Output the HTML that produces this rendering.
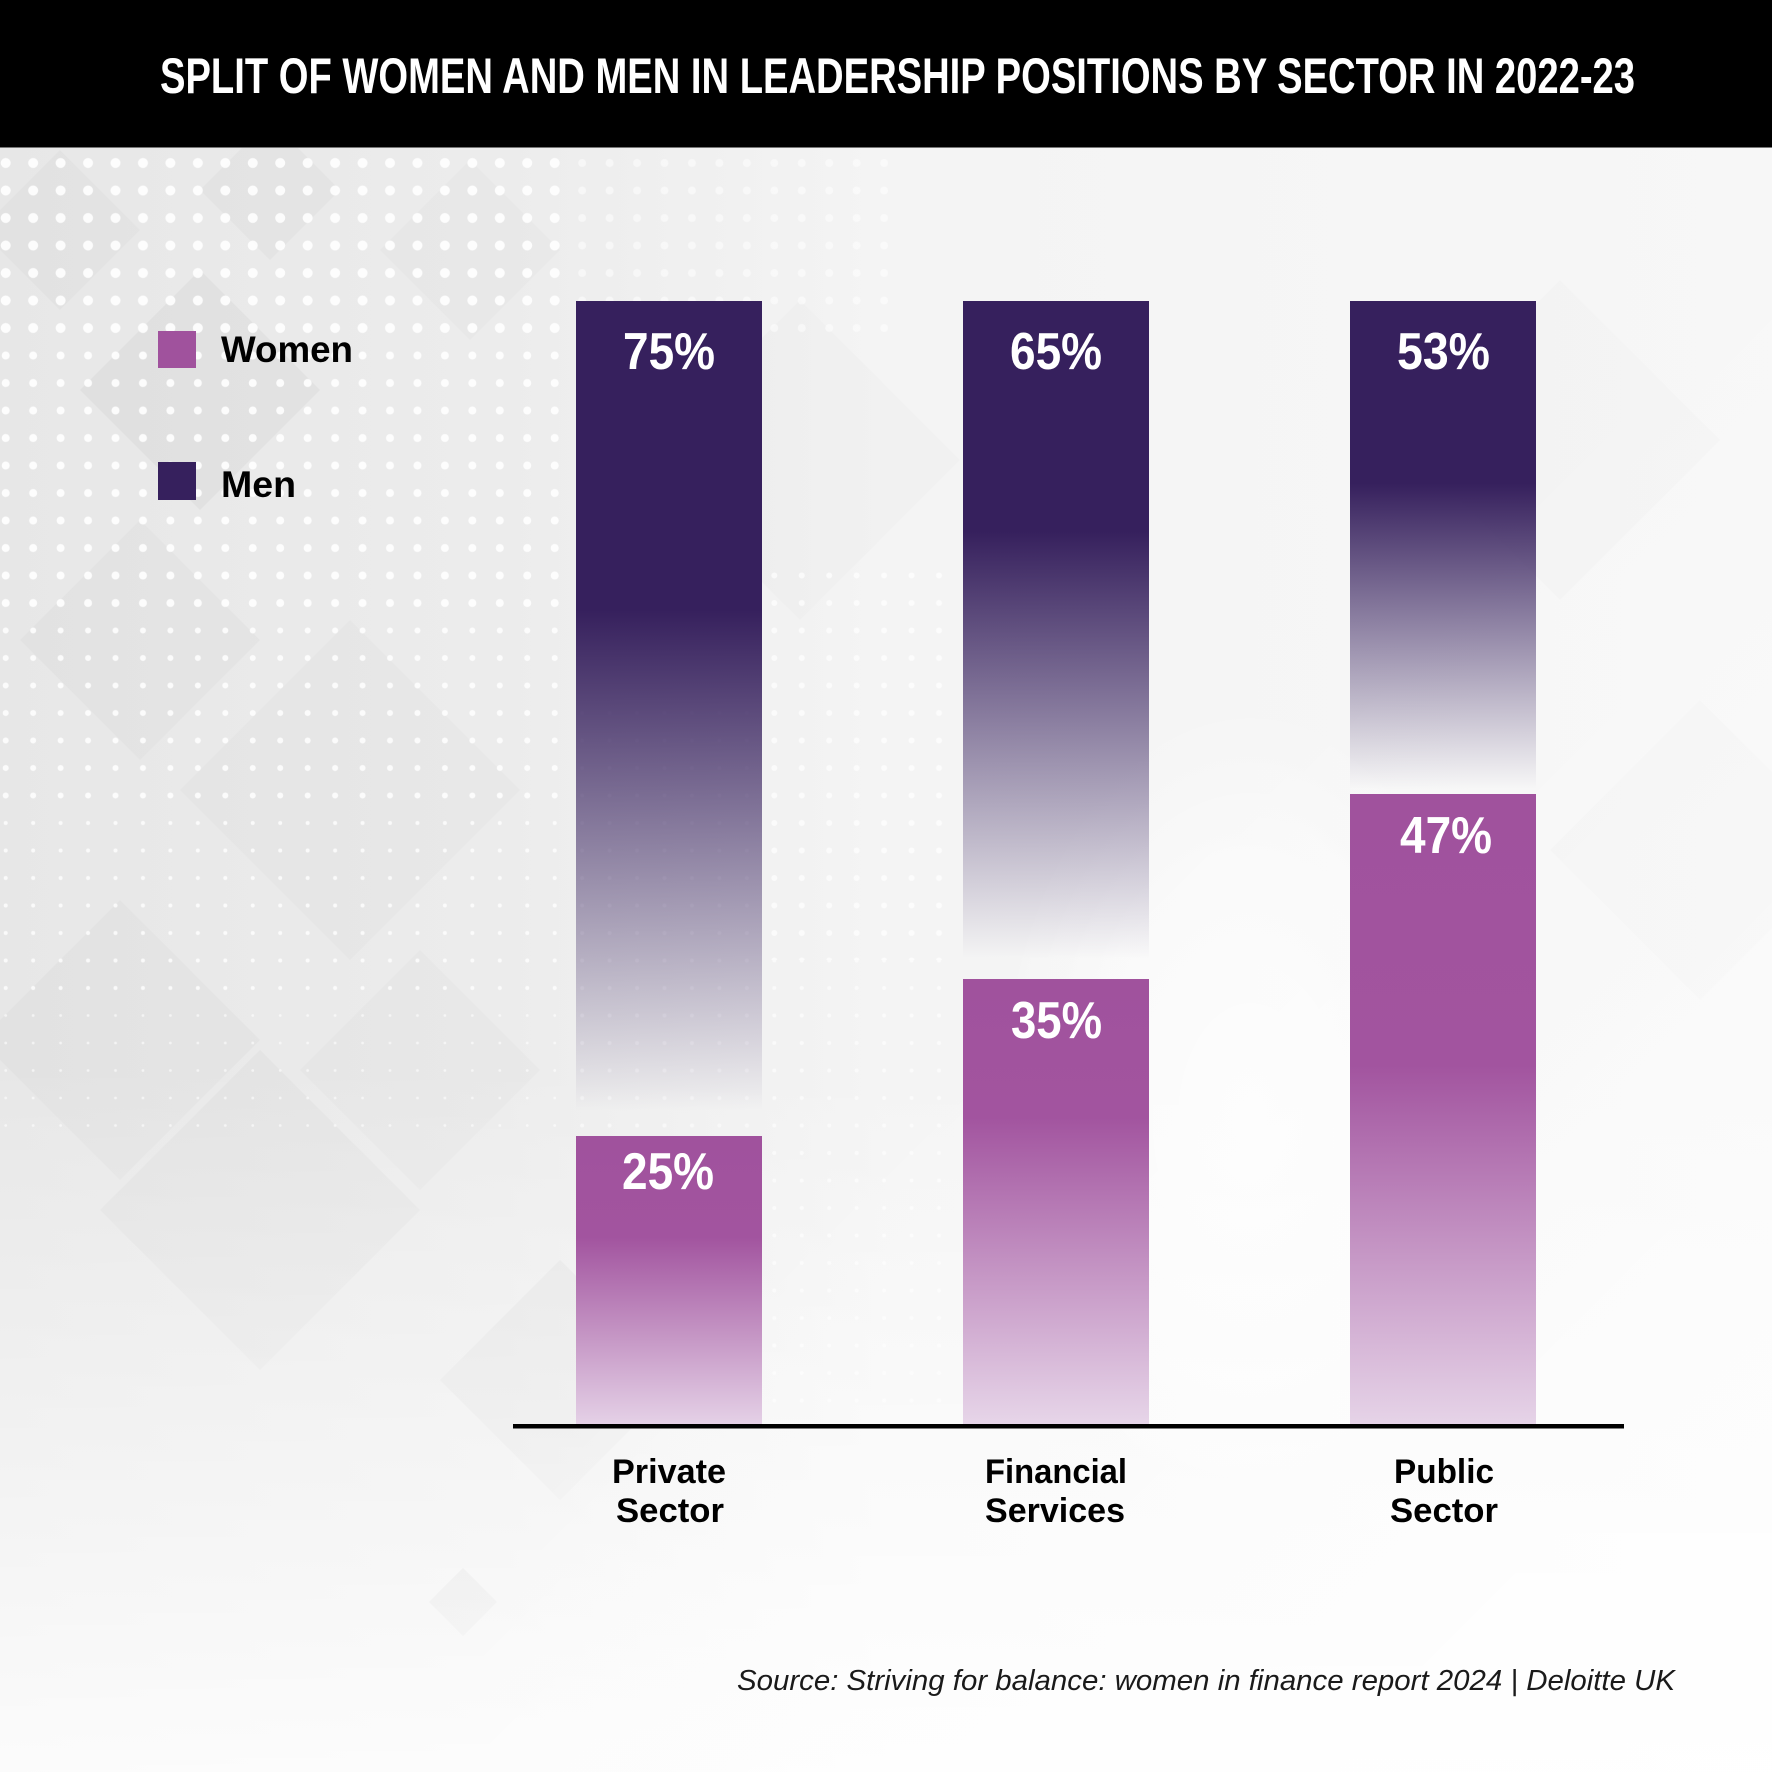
<!DOCTYPE html>
<html>
<head>
<meta charset="utf-8">
<style>
  html,body{margin:0;padding:0;background:#fff;}
  svg{display:block;}
  .t{font-family:"Liberation Sans Narrow","Liberation Sans",sans-serif;font-weight:bold;}
  .b{font-family:"Liberation Sans",sans-serif;font-weight:bold;}
  .s{font-family:"Liberation Sans",sans-serif;font-style:italic;}
</style>
</head>
<body>
<svg width="1772" height="1772" viewBox="0 0 1772 1772" xmlns="http://www.w3.org/2000/svg">
  <defs>
    <linearGradient id="bgH" x1="0" y1="0" x2="1" y2="0">
      <stop offset="0" stop-color="#e7e7e7"/>
      <stop offset="0.28" stop-color="#ececec"/>
      <stop offset="0.5" stop-color="#f4f4f4"/>
      <stop offset="1" stop-color="#f7f7f7"/>
    </linearGradient>
    <linearGradient id="bgV" x1="0" y1="0" x2="0" y2="1">
      <stop offset="0" stop-color="#ffffff" stop-opacity="0"/>
      <stop offset="0.6" stop-color="#ffffff" stop-opacity="0"/>
      <stop offset="1" stop-color="#ffffff" stop-opacity="0.85"/>
    </linearGradient>
    <linearGradient id="bgR" x1="0" y1="0" x2="1" y2="1">
      <stop offset="0" stop-color="#ffffff" stop-opacity="0"/>
      <stop offset="0.55" stop-color="#ffffff" stop-opacity="0"/>
      <stop offset="1" stop-color="#ffffff" stop-opacity="0.7"/>
    </linearGradient>
    <radialGradient id="glow" cx="0.5" cy="0.5" r="0.5">
      <stop offset="0" stop-color="#ffffff" stop-opacity="0.75"/>
      <stop offset="0.6" stop-color="#ffffff" stop-opacity="0.45"/>
      <stop offset="1" stop-color="#ffffff" stop-opacity="0"/>
    </radialGradient>

    <pattern id="d5" patternUnits="userSpaceOnUse" x="-8" y="149.25" width="27.45" height="27.5">
      <circle cx="13.7" cy="13.75" r="5" fill="#fff"/>
    </pattern>
    <pattern id="d4" patternUnits="userSpaceOnUse" x="-8" y="149.25" width="27.45" height="27.5">
      <circle cx="13.7" cy="13.75" r="4" fill="#fff"/>
    </pattern>
    <pattern id="d3" patternUnits="userSpaceOnUse" x="-8" y="149.25" width="27.45" height="27.5">
      <circle cx="13.7" cy="13.75" r="3" fill="#fff"/>
    </pattern>
    <pattern id="d2" patternUnits="userSpaceOnUse" x="-8" y="149.25" width="27.45" height="27.5">
      <circle cx="13.7" cy="13.75" r="2" fill="#fff"/>
    </pattern>
    <pattern id="d1" patternUnits="userSpaceOnUse" x="-8" y="149.25" width="27.45" height="27.5">
      <circle cx="13.7" cy="13.75" r="1.4" fill="#fff"/>
    </pattern>

    <linearGradient id="menP" x1="0" y1="0" x2="0" y2="1">
      <stop offset="0" stop-color="#36205d" stop-opacity="1"/>
      <stop offset="0.37" stop-color="#36205d" stop-opacity="1"/>
      <stop offset="0.97" stop-color="#36205d" stop-opacity="0"/>
      <stop offset="1" stop-color="#36205d" stop-opacity="0"/>
    </linearGradient>
    <linearGradient id="menF" x1="0" y1="0" x2="0" y2="1">
      <stop offset="0" stop-color="#36205d" stop-opacity="1"/>
      <stop offset="0.34" stop-color="#36205d" stop-opacity="1"/>
      <stop offset="0.97" stop-color="#36205d" stop-opacity="0"/>
      <stop offset="1" stop-color="#36205d" stop-opacity="0"/>
    </linearGradient>
    <linearGradient id="menU" x1="0" y1="0" x2="0" y2="1">
      <stop offset="0" stop-color="#36205d" stop-opacity="1"/>
      <stop offset="0.37" stop-color="#36205d" stop-opacity="1"/>
      <stop offset="0.99" stop-color="#36205d" stop-opacity="0"/>
      <stop offset="1" stop-color="#36205d" stop-opacity="0"/>
    </linearGradient>

    <linearGradient id="womP" x1="0" y1="0" x2="0" y2="1">
      <stop offset="0" stop-color="#a0529d"/>
      <stop offset="0.35" stop-color="#a2549f"/>
      <stop offset="1" stop-color="#e5d2e7"/>
    </linearGradient>
    <linearGradient id="womF" x1="0" y1="0" x2="0" y2="1">
      <stop offset="0" stop-color="#a0529d"/>
      <stop offset="0.31" stop-color="#a2549f"/>
      <stop offset="1" stop-color="#e7d6e9"/>
    </linearGradient>
    <linearGradient id="womU" x1="0" y1="0" x2="0" y2="1">
      <stop offset="0" stop-color="#a0529d"/>
      <stop offset="0.43" stop-color="#a2549f"/>
      <stop offset="1" stop-color="#e6d4e8"/>
    </linearGradient>
  </defs>

  <!-- background -->
  <rect x="0" y="0" width="1772" height="1772" fill="url(#bgH)"/>

  <!-- diamonds (subtle) -->
  <g fill="#000">
    <polygon points="60,150 140,230 60,310 -20,230" opacity="0.02"/>
    <polygon points="270,120 340,190 270,260 200,190" opacity="0.025"/>
    <polygon points="200,270 320,390 200,510 80,390" opacity="0.03"/>
    <polygon points="470,160 560,250 470,340 380,250" opacity="0.015"/>
    <polygon points="140,520 260,640 140,760 20,640" opacity="0.018"/>
    <polygon points="350,620 520,790 350,960 180,790" opacity="0.015"/>
    <polygon points="120,900 260,1040 120,1180 -20,1040" opacity="0.02"/>
    <polygon points="260,1050 420,1210 260,1370 100,1210" opacity="0.025"/>
    <polygon points="420,950 540,1070 420,1190 300,1070" opacity="0.015"/>
    <polygon points="560,1260 680,1380 560,1500 440,1380" opacity="0.03"/>
    <polygon points="463,1568 497,1602 463,1636 429,1602" opacity="0.07"/>
    <polygon points="800,300 960,460 800,620 640,460" opacity="0.01"/>
    <polygon points="1560,280 1720,440 1560,600 1400,440" opacity="0.012"/>
    <polygon points="1700,700 1850,850 1700,1000 1550,850" opacity="0.012"/>
  </g>

  <!-- dots -->
  <rect x="0" y="148" width="560" height="200" fill="url(#d5)" opacity="0.9"/>
  <rect x="560" y="148" width="330" height="200" fill="url(#d4)" opacity="0.5"/>
  <rect x="0" y="348" width="560" height="260" fill="url(#d4)" opacity="0.9"/>
  <rect x="0" y="608" width="560" height="200" fill="url(#d3)" opacity="0.85"/>
  <rect x="0" y="808" width="560" height="200" fill="url(#d2)" opacity="0.8"/>
  <rect x="0" y="1008" width="560" height="120" fill="url(#d1)" opacity="0.6"/>
  <rect x="760" y="560" width="200" height="400" fill="url(#d3)" opacity="0.7"/>
  <rect x="760" y="960" width="200" height="460" fill="url(#d2)" opacity="0.6"/>
  <rect x="576" y="700" width="186" height="440" fill="url(#d2)" opacity="0.5"/>

  <rect x="0" y="0" width="1772" height="1772" fill="url(#bgV)"/>
  <rect x="0" y="0" width="1772" height="1772" fill="url(#bgR)"/>
  <!-- soft lighter area between financial and public -->
  <ellipse cx="1250" cy="1120" rx="260" ry="420" fill="url(#glow)"/>

  <!-- header -->
  <rect x="0" y="0" width="1772" height="148" fill="#000"/>
  <rect x="0" y="147" width="1772" height="1" fill="#777"/>
  <text class="t" x="160" y="93" font-size="50" fill="#fff" textLength="1475" lengthAdjust="spacingAndGlyphs">SPLIT OF WOMEN AND MEN IN LEADERSHIP POSITIONS BY SECTOR IN 2022-23</text>

  <!-- legend -->
  <rect x="158" y="331" width="38" height="37" fill="#a0529d"/>
  <text class="b" x="221" y="362" font-size="37" fill="#000" textLength="132" lengthAdjust="spacingAndGlyphs">Women</text>
  <rect x="158" y="462" width="38" height="38" fill="#36205d"/>
  <text class="b" x="221" y="497" font-size="37" fill="#000" textLength="75" lengthAdjust="spacingAndGlyphs">Men</text>

  <!-- bars -->
  <rect x="576" y="301" width="186" height="835" fill="url(#menP)"/>
  <rect x="576" y="1136" width="186" height="290" fill="url(#womP)"/>

  <rect x="963" y="301" width="186" height="678" fill="url(#menF)"/>
  <rect x="963" y="979" width="186" height="447" fill="url(#womF)"/>

  <rect x="1350" y="301" width="186" height="493" fill="url(#menU)"/>
  <rect x="1350" y="794" width="186" height="632" fill="url(#womU)"/>

  <!-- value labels -->
  <g class="t" font-size="52" fill="#fff">
    <text x="623" y="369" textLength="92" lengthAdjust="spacingAndGlyphs">75%</text>
    <text x="1010" y="369" textLength="92" lengthAdjust="spacingAndGlyphs">65%</text>
    <text x="1397" y="369" textLength="93" lengthAdjust="spacingAndGlyphs">53%</text>
    <text x="622" y="1189" textLength="92" lengthAdjust="spacingAndGlyphs">25%</text>
    <text x="1011" y="1038" textLength="91" lengthAdjust="spacingAndGlyphs">35%</text>
    <text x="1400" y="853" textLength="92" lengthAdjust="spacingAndGlyphs">47%</text>
  </g>

  <!-- axis -->
  <rect x="513" y="1424" width="1111" height="4.5" fill="#000"/>

  <!-- category labels -->
  <g class="b" font-size="34" fill="#000">
    <text x="612" y="1483" textLength="114" lengthAdjust="spacingAndGlyphs">Private</text>
    <text x="616" y="1522" textLength="108" lengthAdjust="spacingAndGlyphs">Sector</text>
    <text x="985" y="1483" textLength="142" lengthAdjust="spacingAndGlyphs">Financial</text>
    <text x="985" y="1522" textLength="140" lengthAdjust="spacingAndGlyphs">Services</text>
    <text x="1394" y="1483" textLength="100" lengthAdjust="spacingAndGlyphs">Public</text>
    <text x="1390" y="1522" textLength="108" lengthAdjust="spacingAndGlyphs">Sector</text>
  </g>

  <!-- source -->
  <text class="s" x="737" y="1690" font-size="29" fill="#1a1a1a" textLength="938" lengthAdjust="spacingAndGlyphs">Source: Striving for balance: women in finance report 2024 | Deloitte UK</text>
</svg>
</body>
</html>
